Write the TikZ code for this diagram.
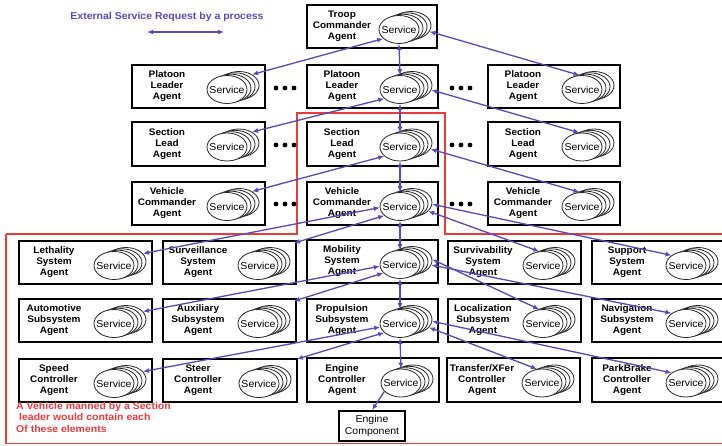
\documentclass[tikz,border=0pt]{standalone}
\usepackage{fontspec}
\setmainfont{Liberation Sans}[FakeStretch=1.05]
\usetikzlibrary{arrows.meta,shapes.geometric}

\definecolor{reqblue}{RGB}{88,72,184}
\definecolor{regionred}{RGB}{232,60,60}

\tikzset{
  agentframe/.style={draw=black, line width=1.8pt, fill=white, inner sep=0pt},
  agentlabel/.style={font=\bfseries\fontsize{9.5}{11}\selectfont, align=center, inner sep=0pt},
  svcshape/.style={ellipse, draw=black!85, line width=0.8pt, fill=white,
    minimum width=40pt, minimum height=28pt, inner sep=0pt},
  svctext/.style={font=\fontsize{10}{12}\selectfont, inner sep=0pt},
  req/.style={draw=reqblue, line width=1.3pt,
    {Latex[length=6pt,width=5pt]}-{Latex[length=6pt,width=5pt]}},
  reqone/.style={draw=reqblue, line width=1.3pt, -{Latex[length=6pt,width=5pt]}},
  region/.style={draw=regionred, line width=1.4pt},
  ellipsisdot/.style={fill=black},
  legendtext/.style={text=reqblue, font=\bfseries\fontsize{10}{12}\selectfont, inner sep=0pt},
  regionnote/.style={text=regionred, font=\bfseries\fontsize{10}{11.5}\selectfont,
    align=left, inner sep=0pt}
}

% agent box: id, left, top, right, bottom, label
% draws the frame, its label and a stack of service ellipses
\newcommand\agent[6]{%
  \node[agentframe, minimum width={#4-#2}, minimum height={#5-#3}] (#1)
    at ({(#2+#4)/2},{(#3+#5)/2}) {};
  \node[agentlabel] (#1-l) at ({#2+35},{(#3+#5)/2}) {#6};
  \node[svcshape] (#1-b)  at ({#4-38+12},{(#3+#5)/2+3-4}) {};
  \node[svcshape] (#1-b2) at ({#4-38+8},{(#3+#5)/2+3-2.7}) {};
  \node[svcshape] (#1-b1) at ({#4-38+4},{(#3+#5)/2+3-1.3}) {};
  \node[svcshape, label={[svctext]center:Service}] (#1-s)
    at ({#4-38},{(#3+#5)/2+3}) {};
}

\begin{document}
\begin{tikzpicture}[x=1pt,y=-1pt]
\path[use as bounding box] (0,0) rectangle (722,445);
\clip (0,0) rectangle (722,445);

% legend
\node[legendtext] (legend) at (167,17) {External Service Request by a process};
\coordinate (lg-w) at (147,32);
\coordinate (lg-e) at (224,32);
\draw[req, line width=1.6pt] (lg-w) -- (lg-e);

% region of one manned vehicle
\draw[region] (6,234) -- (297,234) -- (297,113) -- (445,113) -- (445,234) -- (730,234)
  (6,234) -- (6,443.3) -- (730,443.3);

% command chain
\agent{tc}{307}{5}{437}{48}{Troop\\Commander\\Agent}
\agent{pl}{132}{65}{265}{108}{Platoon\\Leader\\Agent}
\agent{pc}{307}{65}{438}{108}{Platoon\\Leader\\Agent}
\agent{pr}{488}{65}{620}{108}{Platoon\\Leader\\Agent}
\agent{sl}{132}{122}{265}{166}{Section\\Lead\\Agent}
\agent{sc}{307}{122}{438}{166}{Section\\Lead\\Agent}
\agent{sr}{488}{122}{620}{166}{Section\\Lead\\Agent}
\agent{vl}{132}{182}{265}{225}{Vehicle\\Commander\\Agent}
\agent{vc}{307}{182}{438}{225}{Vehicle\\Commander\\Agent}
\agent{vr}{488}{182}{620}{225}{Vehicle\\Commander\\Agent}

% vehicle systems
\agent{leth}{19}{241}{152}{284}{Lethality\\System\\Agent}
\agent{surv}{163}{241}{296}{284}{Surveillance\\System\\Agent}
\agent{mob}{307}{240}{438}{283}{Mobility\\System\\Agent}
\agent{survi}{448}{241}{581}{284}{Survivability\\System\\Agent}
\agent{supp}{592}{241}{724}{284}{Support\\System\\Agent}

% subsystems
\agent{auto}{19}{299}{152}{342}{Automotive\\Subsystem\\Agent}
\agent{aux}{163}{299}{296}{342}{Auxiliary\\Subsystem\\Agent}
\agent{prop}{307}{299}{438}{342}{Propulsion\\Subsystem\\Agent}
\agent{loc}{448}{299}{581}{342}{Localization\\Subsystem\\Agent}
\agent{nav}{592}{299}{724}{342}{Navigation\\Subsystem\\Agent}

% controllers
\agent{speed}{19}{359}{152}{402}{Speed\\Controller\\Agent}
\agent{steer}{163}{359}{297}{402}{Steer\\Controller\\Agent}
\agent{engc}{307}{358}{439}{402}{Engine\\Controller\\Agent}
\agent{trans}{447}{358}{580}{402}{Transfer/XFer\\Controller\\Agent}
\agent{park}{592}{358}{724}{402}{ParkBrake\\Controller\\Agent}

% physical component
\node[agentframe, minimum width=66pt, minimum height=30pt] (eng) at (372,426) {};
\node[svctext, align=center, font=\fontsize{10}{12}\selectfont] (eng-l) at (372,426) {Engine\\Component};

% ellipses between peer agents
\foreach \y in {88,145,204} {
  \foreach \x in {276,285,294} \fill[ellipsisdot] (\x,\y) circle (2.4pt);
  \foreach \x in {452,461,470} \fill[ellipsisdot] (\x,\y) circle (2.4pt);
}

% vertical chain of service requests
\draw[req] (tc-s.south) -- (pc-s.north);
\draw[req] (pc-s.south) -- (sc-s.north);
\draw[req] (sc-s.south) -- (vc-s.north);
\draw[req] (vc-s.south) -- (mob-s.north);
\draw[req] (mob-s.south) -- (prop-s.north);
\draw[req] (prop-s.south) -- (engc-s.north);

% requests to peers on the left and right
\draw[req] (pl-b.40) -- (tc-s.210);
\draw[req] (tc-b.-18) -- (pr-s.100);
\draw[req] (sl-b.40) -- (pc-s.210);
\draw[req] (pc-b.-13) -- (sr-s.100);
\draw[req] (vl-b.40) -- (sc-s.210);
\draw[req] (sc-b.-18) -- (vr-s.100);

\draw[req] (leth-b.25) -- (vc-s.183);
\draw[req] ([xshift=-3pt,yshift=-3pt]surv.north east) -- (vc-s.210);
\draw[req] (vc-b.-5) -- (supp-s.145);
\draw[req] (vc-b.-28) -- (survi-s.105);

\draw[req] (auto-b.25) -- (mob-s.185);
\draw[req] ([xshift=-3pt,yshift=-3pt]aux.north east) -- (mob-s.207);
\draw[req] (mob-b.3) -- (loc-s.105);
\draw[req] (mob-b.-13) -- (nav-s.145);

\draw[req] (speed-b.25) -- (prop-s.190);
\draw[req] ([xshift=-1pt,yshift=-1pt]steer.north east) -- (prop-s.210);
\draw[req] (prop-b.-5) -- (park-s.145);
\draw[req] (prop-b.-25) -- (trans-s.110);

\draw[reqone] (engc-s.207) -- (eng.north);

% note inside the region
\node[regionnote, anchor=north west] (note) at (16,402)
  {A Vehicle manned by a Section\\\hspace*{3pt}leader would contain each\\Of these elements};

\end{tikzpicture}
\end{document}
